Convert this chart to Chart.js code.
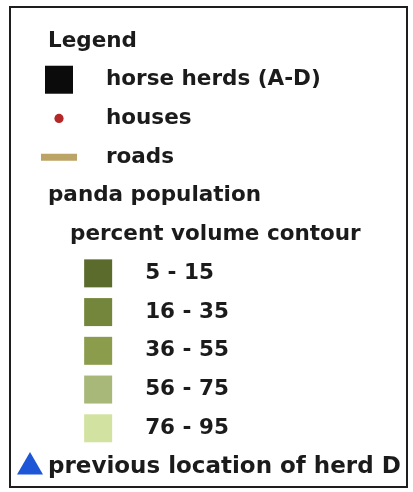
<!DOCTYPE html>
<html>
<head>
<meta charset="utf-8">
<script src="https://cdn.jsdelivr.net/npm/chart.js@4"></script>
<style>
  html, body { margin: 0; padding: 0; background: #fff; overflow: hidden; }
  #wrap { position: relative; width: 413px; height: 492px; }
</style>
</head>
<body>
<div id="wrap"><canvas id="legendChart"></canvas></div>
<script>
// legend rows, top to bottom
const rowLabels = ['Legend', 'horse herds (A-D)', 'houses', 'roads', 'panda population',
    'percent volume contour', '5 - 15', '16 - 35', '36 - 55', '56 - 75', '76 - 95',
    'previous location of herd D'];
const rowKinds = ['title', 'item', 'item', 'item', 'title', 'subtitle',
    'range', 'range', 'range', 'range', 'range', 'note'];
const rowSymbols = [null, 'rect', 'circle', 'line', null, null,
    'rect', 'rect', 'rect', 'rect', 'rect', 'triangle'];
const rowColors = [null, '#0b0b0b', '#b52626', '#bca466', null, null,
    '#5b6b2b', '#74863b', '#8b9d4d', '#a8b879', '#d2e3a1', '#1d56d6'];

// layout: where the symbol and the text sit, in indent units
const symbolIndent = { item: 1, range: 2.35, note: 0 };
const textIndent = { title: 0.62, item: 2.62, subtitle: 1.38, range: 3.97, note: 0.62 };
const textSize = { title: 21.5, item: 21.5, subtitle: 21.5, range: 21.5, note: 23 };
const symbolRadius = { rect: 19.8, circle: 4.6, line: 18, triangle: 15 };

const points = [];
rowLabels.forEach((lab, i) => {
    if (rowSymbols[i]) points.push({ x: symbolIndent[rowKinds[i]], y: i, row: i });
});

const symOf = ctx => rowSymbols[ctx.raw ? ctx.raw.row : 1];
const colOf = ctx => rowColors[ctx.raw ? ctx.raw.row : 1];

const frameAndText = {
    id: 'frameAndText',
    beforeDraw(chart) {
        const c = chart.ctx;
        c.save();
        c.fillStyle = '#fff';
        c.fillRect(0, 0, chart.width, chart.height);
        c.restore();
    },
    afterDraw(chart) {
        const c = chart.ctx;
        const xs = chart.scales.x, ys = chart.scales.y;
        c.save();
        c.strokeStyle = '#1e1e1e';
        c.lineWidth = 2;
        c.strokeRect(10, 7, chart.width - 16, chart.height - 12);

        c.fillStyle = '#1b1b1b';
        c.textBaseline = 'middle';
        rowLabels.forEach((lab, i) => {
            const k = rowKinds[i];
            c.font = 'bold ' + textSize[k] + 'px "DejaVu Sans"';
            c.fillText(lab, xs.getPixelForValue(textIndent[k]), ys.getPixelForValue(i));
        });
        c.restore();
    }
};

new Chart(document.getElementById('legendChart'), {
    type: 'scatter',
    data: {
        datasets: [{
            data: points,
            clip: false,
            pointStyle: symOf,
            pointRadius: ctx => symbolRadius[symOf(ctx)],
            pointHoverRadius: ctx => symbolRadius[symOf(ctx)],
            backgroundColor: colOf,
            borderColor: colOf,
            borderWidth: ctx => symOf(ctx) === 'line' ? 7 : 0
        }]
    },
    options: {
        responsive: true,
        maintainAspectRatio: false,
        animation: false,
        events: [],
        layout: { padding: { left: 30, right: 93, top: 41, bottom: 25 } },
        plugins: { legend: { display: false }, tooltip: { enabled: false } },
        scales: {
            x: { type: 'linear', min: 0, max: 10, display: false },
            y: { type: 'linear', min: 0, max: rowLabels.length - 1, reverse: true, display: false }
        }
    },
    plugins: [frameAndText]
});
</script>
</body>
</html>
